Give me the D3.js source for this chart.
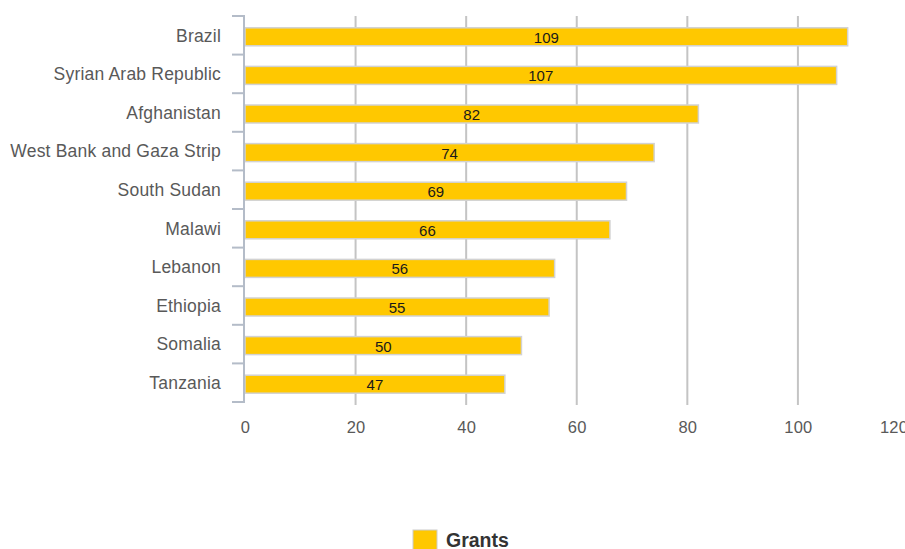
<!DOCTYPE html>
<html>
<head>
<meta charset="utf-8">
<script src="https://cdn.jsdelivr.net/npm/d3@7"></script>
<style>
  body { margin: 0; background: #fff; }
  svg { display: block; font-family: Arial, "Liberation Sans", sans-serif; }
</style>
</head>
<body>
<div id="chart"></div>
<script>
const countries = ["Brazil", "Syrian Arab Republic", "Afghanistan", "West Bank and Gaza Strip",
  "South Sudan", "Malawi", "Lebanon", "Ethiopia", "Somalia", "Tanzania"];
const grants = [109, 107, 82, 74, 69, 66, 56, 55, 50, 47];
const xTicks = [0, 20, 40, 60, 80, 100, 120];
const seriesName = "Grants";

const width = 905, height = 549;
const plotLeft = 245, plotTop = 16, plotBottom = 402;

const svg = d3.select('#chart').append('svg')
  .attr('width', width)
  .attr('height', height);

const x = d3.scaleLinear().domain([0, 120]).range([plotLeft, 908.5]);
const y = d3.scaleBand().domain(countries).range([plotTop, plotBottom]);

// gridlines
svg.append('g')
  .selectAll('line')
  .data(xTicks.slice(1))
  .enter()
  .append('line')
  .attr('x1', d => x(d)).attr('x2', d => x(d))
  .attr('y1', plotTop).attr('y2', plotBottom + 3)
  .attr('stroke', '#c4c4c4')
  .attr('stroke-width', 2);

// x tick labels (last one pushed in like the original, still clipped by the edge)
svg.append('g')
  .selectAll('text')
  .data(xTicks)
  .enter()
  .append('text')
  .attr('x', d => Math.min(x(d) + 0.5, width - 11))
  .attr('y', 433)
  .attr('text-anchor', 'middle')
  .attr('fill', '#595959')
  .style('font-size', '16.5px')
  .style('letter-spacing', '0.2px')
  .text(d => d);

// bars
const barH = 18;
svg.append('g')
  .selectAll('rect')
  .data(grants)
  .enter()
  .append('rect')
  .attr('x', x(0))
  .attr('y', (d, i) => y(countries[i]) + y.bandwidth() / 2 - barH / 2 + 1.5)
  .attr('width', d => x(d) - x(0))
  .attr('height', barH)
  .attr('fill', '#ffc800')
  .attr('stroke', '#d2d2d2')
  .attr('stroke-width', 1.5);

// value labels
svg.append('g')
  .selectAll('text')
  .data(grants)
  .enter()
  .append('text')
  .attr('x', d => (x(0) + x(d)) / 2)
  .attr('y', (d, i) => y(countries[i]) + y.bandwidth() / 2 + 2)
  .attr('dy', '0.36em')
  .attr('text-anchor', 'middle')
  .attr('fill', '#1a1a1a')
  .style('font-size', '15px')
  .text(d => d);

// y axis
const axis = svg.append('g');
axis.append('line')
  .attr('x1', plotLeft - 1).attr('x2', plotLeft - 1)
  .attr('y1', plotTop).attr('y2', plotBottom)
  .attr('stroke', '#b4bcc8')
  .attr('stroke-width', 2);
axis.selectAll('line.tick')
  .data(countries.concat(['end']))
  .enter()
  .append('line')
  .attr('class', 'tick')
  .attr('x1', plotLeft - 13).attr('x2', plotLeft)
  .attr('y1', (d, i) => plotTop + i * y.step())
  .attr('y2', (d, i) => plotTop + i * y.step())
  .attr('stroke', '#b4bcc8')
  .attr('stroke-width', 2);

// category labels
svg.append('g')
  .selectAll('text')
  .data(countries)
  .enter()
  .append('text')
  .attr('x', 221)
  .attr('y', d => y(d) + y.bandwidth() / 2)
  .attr('dy', '0.36em')
  .attr('text-anchor', 'end')
  .attr('fill', '#595959')
  .style('font-size', '17.5px')
  .style('letter-spacing', '0.2px')
  .text(d => d);

// legend
const legend = svg.append('g').attr('transform', 'translate(413, 530)');
legend.append('rect')
  .attr('width', 24).attr('height', 20)
  .attr('fill', '#ffc800')
  .attr('stroke', '#ccc');
legend.append('text')
  .attr('x', 33).attr('y', 17)
  .attr('fill', '#333')
  .style('font-size', '19.5px')
  .style('font-weight', 'bold')
  .text(seriesName);
</script>
</body>
</html>
